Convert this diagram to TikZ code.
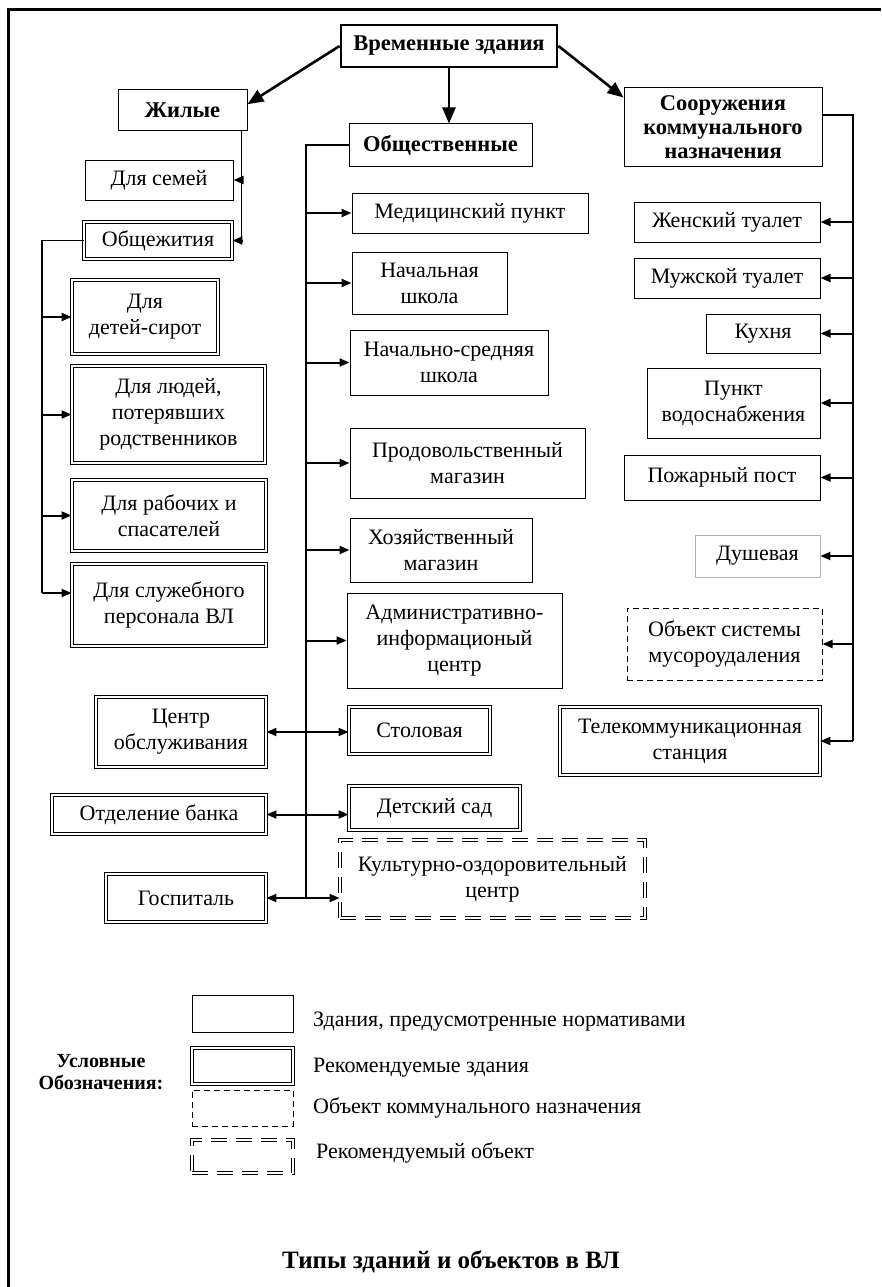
\documentclass[tikz,border=0pt]{standalone}
\usepackage{fontspec}
\setmainfont{Liberation Serif}
\usetikzlibrary{arrows.meta,calc}
\newcommand\bxx[7]{\node[#6, minimum width={#4pt-#2pt}, minimum height={#5pt-#3pt}] (#1) at ({(#2+#4)/2},{(#3+#5)/2}) {#7};}
\tikzset{
 bx/.style={draw, line width=1pt, inner sep=1pt, align=center, font=\fontsize{22}{26}\selectfont},
 dbl/.style={bx, double, double distance=1.8pt, line width=0.9pt},
 dsh/.style={bx, dash pattern=on 6pt off 4pt},
 ddsh/.style={dbl, dash pattern=on 16pt off 9pt},
 light/.style={bx, draw=gray!60, line width=0.7pt},
 hd/.style={bx, font=\bfseries\fontsize{22.5}{24}\selectfont},
 topb/.style={hd, line width=2.8pt},
 ar/.style={line width=2pt, -{Triangle[length=10pt,width=8pt]}},
 dar/.style={line width=2pt, {Triangle[length=10pt,width=8pt]}-{Triangle[length=10pt,width=8pt]}},
 big/.style={line width=2.6pt, -{Triangle[length=16pt,width=13pt]}},
 bus/.style={line width=1.3pt},
 leg/.style={anchor=west, inner sep=0pt, font=\fontsize{22}{26}\selectfont},
}
\begin{document}
\begin{tikzpicture}[x=1pt,y=-1pt]
\useasboundingbox (0,0) rectangle (881,1287);
\draw[line width=3pt] (8,1287) -- (8,10) -- (881,10);
% headings
\bxx{vrem}{341}{25}{557}{67}{topb}{Временные здания}
\bxx{zhil}{118}{90}{247}{131}{hd}{Жилые}
\bxx{obsh}{349}{124}{532}{166}{hd}{Общественные}
\bxx{soor}{624}{88}{822}{166}{hd}{Сооружения\\коммунального\\назначения}
% left column
\bxx{semi}{85}{160}{233}{200}{bx}{Для семей}
\bxx{obzh}{84}{222}{232}{259}{dbl}{Общежития}
\bxx{siro}{72}{280}{218}{354}{dbl}{Для\\детей-сирот}
\bxx{lyud}{72}{366}{265}{463}{dbl}{Для людей,\\потерявших\\родственников}
\bxx{rab}{72}{480}{266}{551}{dbl}{Для рабочих и\\спасателей}
\bxx{sluzh}{72}{564}{266}{646}{dbl}{Для служебного\\персонала ВЛ}
\bxx{cent}{96}{697}{266}{767}{dbl}{Центр\\обслуживания}
\bxx{bank}{52}{795}{266}{834}{dbl}{Отделение банка}
\bxx{gosp}{106}{874}{266}{922}{dbl}{Госпиталь}
% middle column
\bxx{med}{352}{193}{588}{233}{bx}{Медицинский пункт}
\bxx{nach}{352}{252}{507}{314}{bx}{Начальная\\школа}
\bxx{nsr}{350}{330}{548}{395}{bx}{Начально-средняя\\школа}
\bxx{prod}{350}{428}{585}{498}{bx}{Продовольственный\\магазин}
\bxx{hoz}{350}{518}{532}{582}{bx}{Хозяйственный\\магазин}
\bxx{adm}{347}{593}{562}{688}{bx}{Административно-\\информационый\\центр}
\bxx{stol}{349}{707}{490}{754}{dbl}{Столовая}
\bxx{dsad}{349}{786}{520}{830}{dbl}{Детский сад}
\bxx{kult}{340}{840}{645}{918}{ddsh}{Культурно-оздоровительный\\центр}
% right column
\bxx{zhen}{634}{202}{820}{242}{bx}{Женский туалет}
\bxx{muzh}{634}{258}{820}{298}{bx}{Мужской туалет}
\bxx{kuh}{706}{314}{820}{353}{bx}{Кухня}
\bxx{voda}{647}{368}{820}{438}{bx}{Пункт\\водоснабжения}
\bxx{pozh}{624}{455}{820}{500}{bx}{Пожарный пост}
\bxx{dush}{695}{535}{820}{577}{light}{Душевая}
\bxx{musor}{627}{608}{822}{680}{dsh}{Объект системы\\мусороудаления}
\bxx{tele}{560}{707}{820}{775}{dbl}{Телекоммуникационная\\станция}
% main arrows
\draw[big] (vrem.west) -- ($(zhil.north east)!0.35!(zhil.south east)$);
\draw[big] (vrem.east) -- ($(soor.north west)+(0,10)$);
\draw[big] (vrem.south) -- (vrem.south |- obsh.north);
% Zhilye branch
\coordinate (j1) at ($(zhil.south east)+(-6,0)$);
\draw[bus] (j1) -- (j1 |- obzh.east);
\draw[ar] (j1 |- semi.east) -- (semi.east);
\draw[ar] (j1 |- obzh.east) -- (obzh.east);
% left bus
\coordinate (lb) at (42,0);
\coordinate (s1) at ($(sluzh.west)+(0,-12)$);
\draw[bus] (obzh.west) -- (obzh.west -| lb) -- (lb |- s1);
\draw[ar] (lb |- siro.west) -- (siro.west);
\draw[ar] (lb |- lyud.west) -- (lyud.west);
\draw[ar] (lb |- rab.west) -- (rab.west);
\draw[ar] (lb |- s1) -- (s1);
% middle bus
\coordinate (mb) at (306,0);
\draw[bus] (obsh.west) -- (obsh.west -| mb) -- (mb |- gosp.east);
\foreach \n in {med,nach,nsr,prod,hoz,adm} \draw[ar] (mb |- \n.west) -- (\n.west);
\draw[dar] (cent.east) -- (cent.east -| stol.west);
\draw[dar] (bank.east) -- (bank.east -| dsad.west);
\draw[dar] (gosp.east) -- (gosp.east -| kult.west);
% right bus
\coordinate (rb) at (853,0);
\coordinate (s2) at ($(soor.east)+(0,-12)$);
\draw[bus] (s2) -- (s2 -| rb) -- (rb |- tele.east);
\foreach \n in {zhen,muzh,kuh,voda,pozh,dush,musor,tele} \draw[ar] (rb |- \n.east) -- (\n.east);
% legend
\bxx{l1}{192}{995}{293}{1032}{bx}{}
\bxx{l2}{192}{1048}{293}{1084}{dbl}{}
\bxx{l3}{192}{1090}{293}{1126}{dsh}{}
\bxx{l4}{192}{1140}{293}{1173}{ddsh}{}
\node[leg] (t1) at (313,1022) {Здания, предусмотренные нормативами};
\node[leg] (t2) at (313,1068) {Рекомендуемые здания};
\node[leg] (t3) at (313,1108) {Объект коммунального назначения};
\node[leg] (t4) at (316,1153) {Рекомендуемый объект};
\node[align=center, font=\bfseries\fontsize{20}{22}\selectfont] (uo) at (101,1072) {Условные\\Обозначения:};
\node[font=\bfseries\fontsize{25}{28}\selectfont] (title) at (451,1262) {Типы зданий и объектов в ВЛ};
\end{tikzpicture}
\end{document}
